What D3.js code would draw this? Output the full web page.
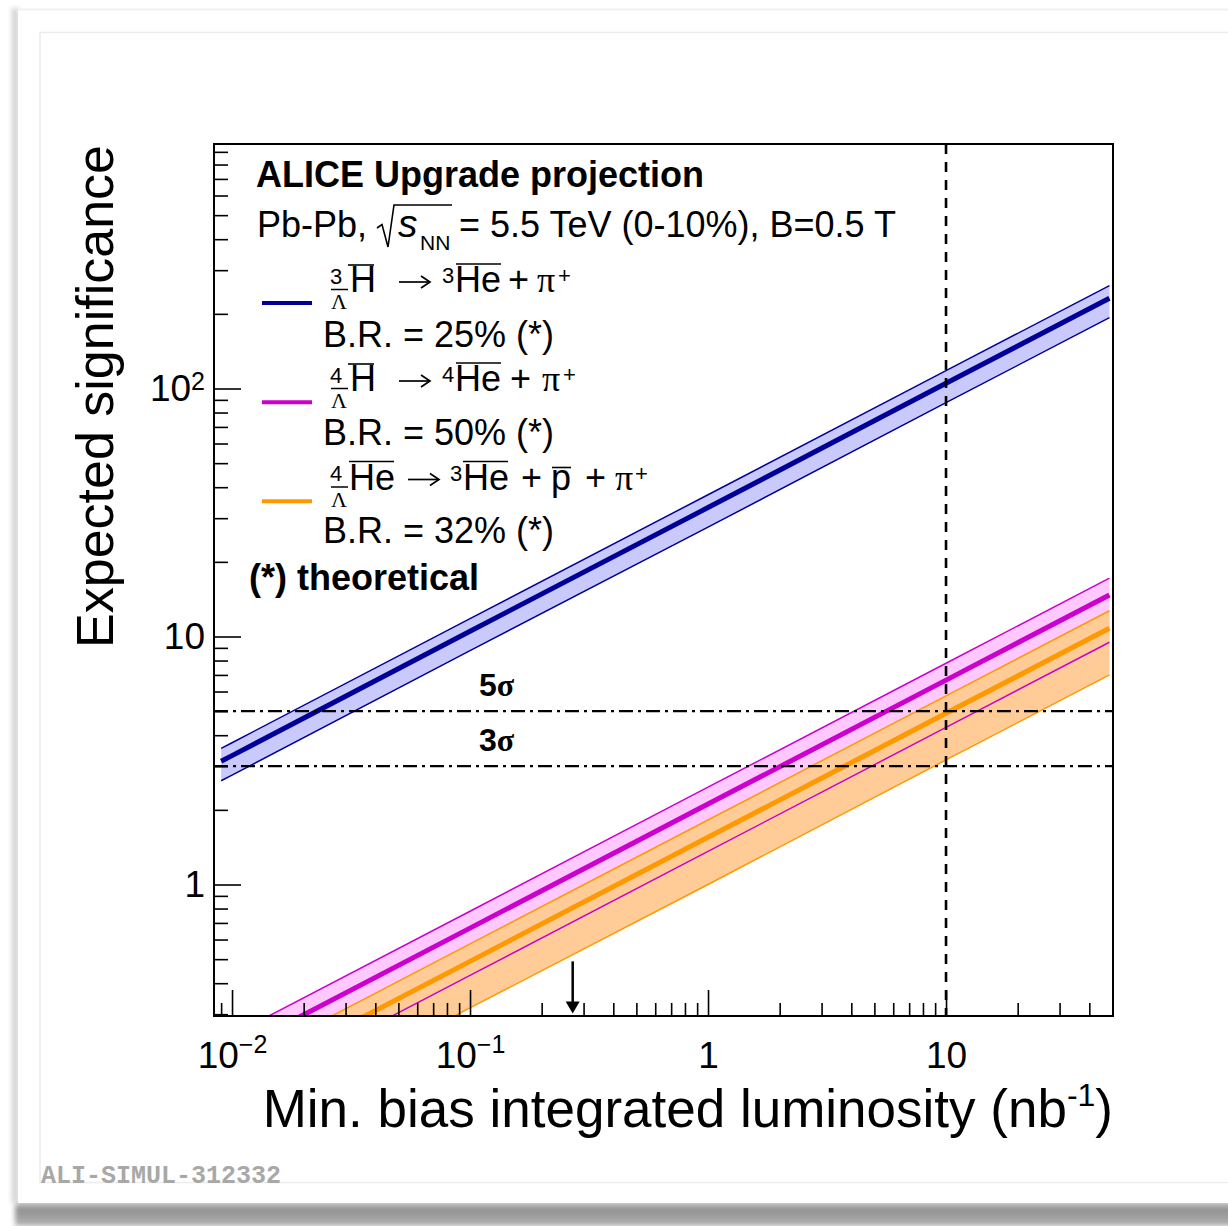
<!DOCTYPE html>
<html><head><meta charset="utf-8">
<script src="https://cdn.jsdelivr.net/npm/d3@7"></script>
<style>body{margin:0;background:#fff;} svg{display:block;}</style>
</head><body>
<svg id="c" width="1228" height="1226"></svg>
<script>
// ---------------- data ----------------
const lumi       = [0.009, 0.01, 0.1, 1, 10, 48.6];
const h3Center   = [3.14, 3.31, 10.5, 33.1, 105, 231];
const h3High     = [3.54, 3.73, 11.8, 37.3, 118, 260];
const h3Low      = [2.62, 2.76, 8.77, 27.6, 87.7, 193];
const h4Center   = [0.200, 0.211, 0.667, 2.11, 6.67, 14.7];
const h4High     = [0.234, 0.247, 0.780, 2.47, 7.80, 17.2];
const h4Low      = [0.129, 0.136, 0.430, 1.36, 4.30, 9.48];
const he4Center  = [0.147, 0.155, 0.490, 1.55, 4.90, 10.8];
const he4High    = [0.173, 0.182, 0.576, 1.82, 5.76, 12.7];
const he4Low     = [0.0952, 0.100, 0.318, 1.00, 3.18, 7.0];
const sigmaLevels = [5, 3];
const sigmaLabels = ["5", "3"];
const refLumi = 10;
const arrowLumi = 0.27;
const arrowSig = [0.49, 0.302];
const xDomain = [0.0084, 50.3];
const yDomain = [0.295, 968];
const xMajorTicks = [0.01, 0.1, 1, 10];
const xMajorLabels = [["10", "\u22122"], ["10", "\u22121"], ["1", ""], ["10", ""]];
const xMinorTicks = [0.009, 0.02, 0.03, 0.04, 0.05, 0.06, 0.07, 0.08, 0.09,
                     0.2, 0.3, 0.4, 0.5, 0.6, 0.7, 0.8, 0.9,
                     2, 3, 4, 5, 6, 7, 8, 9, 20, 30, 40, 50];
const yMajorTicks = [1, 10, 100];
const yMajorLabels = [["1", ""], ["10", ""], ["10", "2"]];
const yMinorTicks = [0.3, 0.4, 0.5, 0.6, 0.7, 0.8, 0.9, 2, 3, 4, 5, 6, 7, 8, 9,
                     20, 30, 40, 50, 60, 70, 80, 90, 200, 300, 400, 500, 600, 700, 800, 900];
const brLabels = ["B.R. = 25% (*)", "B.R. = 50% (*)", "B.R. = 32% (*)"];

// ---------------- drawing ----------------
const svg = d3.select("#c");
const SANS = "'Liberation Sans', Arial, Helvetica, sans-serif";
const SERIF = "'Liberation Serif', 'Times New Roman', serif";

// card / photo frame
const defs = svg.append("defs");
const bl = defs.append("filter").attr("id", "blur").attr("x", "-20%").attr("y", "-20%").attr("width", "140%").attr("height", "140%");
bl.append("feGaussianBlur").attr("stdDeviation", 2.5);
const gb = defs.append("linearGradient").attr("id", "gbot").attr("x1", 0).attr("y1", 0).attr("x2", 0).attr("y2", 1);
gb.append("stop").attr("offset", "0%").attr("stop-color", "#e2e2e2");
gb.append("stop").attr("offset", "35%").attr("stop-color", "#8e8e8e");
gb.append("stop").attr("offset", "100%").attr("stop-color", "#b4b4b4");
const gl = defs.append("linearGradient").attr("id", "gleft").attr("x1", 0).attr("y1", 0).attr("x2", 1).attr("y2", 0);
gl.append("stop").attr("offset", "0%").attr("stop-color", "#ffffff");
gl.append("stop").attr("offset", "60%").attr("stop-color", "#c4c4c4");
gl.append("stop").attr("offset", "100%").attr("stop-color", "#ececec");

svg.append("rect").attr("x", 15).attr("y", 1200).attr("width", 1220).attr("height", 26)
  .attr("fill", "url(#gbot)").attr("filter", "url(#blur)");
svg.append("rect").attr("x", 10).attr("y", 8).attr("width", 9).attr("height", 1195)
  .attr("fill", "url(#gleft)").attr("filter", "url(#blur)");
svg.append("rect").attr("x", 18).attr("y", 10).attr("width", 1215).attr("height", 1193).attr("fill", "#fff");
svg.append("line").attr("x1", 18).attr("x2", 1228).attr("y1", 9.5).attr("y2", 9.5)
  .attr("stroke", "#f0f0f0").attr("stroke-width", 2);
svg.append("rect").attr("x", 40).attr("y", 32.5).attr("width", 1200).attr("height", 1150)
  .attr("fill", "none").attr("stroke", "#ececec").attr("stroke-width", 1.5);
svg.append("text").attr("x", 41).attr("y", 1183).attr("font-family", "'Liberation Mono', 'Courier New', monospace")
  .attr("font-weight", "bold").attr("font-size", 25).attr("fill", "#a8a8a8").text("ALI-SIMUL-312332");

// scales
const x = d3.scaleLog().domain(xDomain).range([214, 1113]);
const y = d3.scaleLog().domain(yDomain).range([1016, 144]);
const [X0, X1] = x.range(), [Y0, Y1] = y.range();

defs.append("clipPath").attr("id", "clip").append("rect")
  .attr("x", X0).attr("y", Y1).attr("width", X1 - X0).attr("height", Y0 - Y1);

const plot = svg.append("g").attr("clip-path", "url(#clip)");

const series = [
  {c: h3Center, hi: h3High, lo: h3Low, line: "#000099", fill: "#c9c9fb"},
  {c: h4Center, hi: h4High, lo: h4Low, line: "#cc00cc", fill: "#ffc9ff"},
  {c: he4Center, hi: he4High, lo: he4Low, line: "#ff9900", fill: "#ffcb96"}
];
const area = s => d3.area().x((d, i) => x(lumi[i])).y0((d, i) => y(s.lo[i])).y1((d, i) => y(s.hi[i]))(lumi);
const line = arr => d3.line().x((d, i) => x(lumi[i])).y((d, i) => y(arr[i]))(lumi);

series.forEach(s => plot.append("path").attr("d", area(s)).attr("fill", s.fill));
series.forEach(s => {
  plot.append("path").attr("d", line(s.hi)).attr("fill", "none").attr("stroke", s.line).attr("stroke-width", 1.5);
  plot.append("path").attr("d", line(s.lo)).attr("fill", "none").attr("stroke", s.line).attr("stroke-width", 1.5);
});
series.forEach(s => plot.append("path").attr("d", line(s.c)).attr("fill", "none").attr("stroke", s.line).attr("stroke-width", 5));

// reference lines
sigmaLevels.forEach((v, i) => {
  plot.append("line").attr("x1", X0).attr("x2", X1).attr("y1", y(v)).attr("y2", y(v))
    .attr("stroke", "#000").attr("stroke-width", 2.3).attr("stroke-dasharray", "14,5,3,5");
  const t = svg.append("text").attr("x", 479).attr("y", y(v) - 15).attr("font-size", 32).attr("font-family", SANS);
  t.append("tspan").attr("font-weight", "bold").text(sigmaLabels[i]);
  t.append("tspan").attr("font-family", SERIF).attr("font-weight", "bold").text("\u03c3");
});
plot.append("line").attr("x1", x(refLumi)).attr("x2", x(refLumi)).attr("y1", Y1).attr("y2", Y0)
  .attr("stroke", "#000").attr("stroke-width", 2.6).attr("stroke-dasharray", "10,8");

// arrow
const ax = x(arrowLumi), ay0 = y(arrowSig[0]), ay1 = y(arrowSig[1]);
svg.append("line").attr("x1", ax).attr("x2", ax).attr("y1", ay0).attr("y2", ay1 - 8)
  .attr("stroke", "#000").attr("stroke-width", 2.5);
svg.append("path").attr("d", `M${ax - 7},${ay1 - 12} L${ax + 7},${ay1 - 12} L${ax},${ay1} Z`).attr("fill", "#000");

// axes (separate groups for minor and major ticks)
const gxMinor = svg.append("g").attr("transform", `translate(0,${Y0})`)
  .call(d3.axisBottom(x).tickValues(xMinorTicks).tickSize(-13).tickFormat(() => ""));
const gxMajor = svg.append("g").attr("transform", `translate(0,${Y0})`)
  .call(d3.axisBottom(x).tickValues(xMajorTicks).tickSize(-26).tickPadding(26).tickFormat(() => ""));
const gyMinor = svg.append("g").attr("transform", `translate(${X0},0)`)
  .call(d3.axisLeft(y).tickValues(yMinorTicks).tickSize(-14).tickFormat(() => ""));
const gyMajor = svg.append("g").attr("transform", `translate(${X0},0)`)
  .call(d3.axisLeft(y).tickValues(yMajorTicks).tickSize(-27).tickPadding(9).tickFormat(() => ""));
[gxMinor, gxMajor, gyMinor, gyMajor].forEach(g => {
  g.selectAll(".domain").remove();
  g.attr("color", "#000");
  g.selectAll(".tick line").attr("stroke-width", 1.6);
  g.selectAll("text").attr("font-family", SANS).attr("font-size", 37).attr("fill", "#000");
});
gxMajor.selectAll(".tick text").each(function(d, i) {
  const lab = xMajorLabels[i];
  const t = d3.select(this);
  t.append("tspan").text(lab[0]);
  if (lab[1]) t.append("tspan").attr("font-size", 25).attr("dy", -15).text(lab[1]);
});
gyMajor.selectAll(".tick text").each(function(d, i) {
  const lab = yMajorLabels[i];
  const t = d3.select(this);
  t.append("tspan").text(lab[0]);
  if (lab[1]) t.append("tspan").attr("font-size", 25).attr("dy", -11).text(lab[1]);
});

// frame
svg.append("rect").attr("x", X0).attr("y", Y1).attr("width", X1 - X0).attr("height", Y0 - Y1)
  .attr("fill", "none").attr("stroke", "#000").attr("stroke-width", 2);

// axis titles
const xt = svg.append("text").attr("x", X1).attr("y", 1127).attr("text-anchor", "end")
  .attr("font-family", SANS).attr("font-size", 53);
xt.append("tspan").text("Min. bias integrated luminosity (nb");
xt.append("tspan").attr("font-size", 32).attr("dy", -21).text("-1");
xt.append("tspan").attr("dy", 21).text(")");
svg.append("text").attr("transform", `translate(113,${Y1 + 1}) rotate(-90)`).attr("text-anchor", "end")
  .attr("font-family", SANS).attr("font-size", 52).text("Expected significance");

// legend / text block
const T = (xx, yy, s, o = {}) => svg.append("text").attr("x", xx).attr("y", yy)
  .attr("font-family", o.serif ? SERIF : SANS).attr("font-size", o.size || 36)
  .attr("font-weight", o.bold ? "bold" : null).attr("font-style", o.italic ? "italic" : null).text(s);
const OL = (x1, x2, yy, w = 1.6) => svg.append("line").attr("x1", x1).attr("x2", x2).attr("y1", yy).attr("y2", yy)
  .attr("stroke", "#000").attr("stroke-width", w);
const ARROW = (x1, x2, yy) => {
  OL(x1, x2, yy, 1.7);
  svg.append("path").attr("d", `M${x2 - 9},${yy - 6} L${x2},${yy} L${x2 - 9},${yy + 6}`)
    .attr("fill", "none").attr("stroke", "#000").attr("stroke-width", 1.7);
};

T(256, 187, "ALICE Upgrade projection", {bold: true});
T(257, 237, "Pb-Pb,");
svg.append("path").attr("d", "M377,228 L382,224.5 L388,247 L394,205 L452,205")
  .attr("fill", "none").attr("stroke", "#000").attr("stroke-width", 1.6);
T(398, 237, "s", {italic: true, size: 39});
T(420, 250, "NN", {size: 21});
T(459, 237, "= 5.5 TeV (0-10%), B=0.5 T");

// entry formulas
function hyperLabel(b, topNum) {
  T(330, b - 8.5, topNum, {size: 22});
  OL(331, 348, b - 2.5, 1.5);
  T(331, b + 17, "\u039b", {size: 22, serif: true});
}
// entry 1
let b = 292;
hyperLabel(b, "3");
T(350, b, "H"); OL(348, 374, b - 27);
ARROW(399, 430, b - 10);
T(442, b - 9, "3", {size: 22});
T(455, b, "He"); OL(456, 501, b - 28);
T(508, b, "+");
T(537, b, "\u03c0", {serif: true});
T(558, b - 9, "+", {size: 22});
// entry 2
b = 391;
hyperLabel(b, "4");
T(350, b, "H"); OL(348, 374, b - 27);
ARROW(399, 430, b - 10);
T(442, b - 9, "4", {size: 22});
T(455, b, "He"); OL(456, 501, b - 28);
T(510, b, "+");
T(542, b, "\u03c0", {serif: true});
T(563, b - 9, "+", {size: 22});
// entry 3
b = 489.5;
hyperLabel(b, "4");
T(349, b, "He"); OL(349, 394, b - 28);
ARROW(408, 439, b - 10);
T(450, b - 9, "3", {size: 22});
T(463, b, "He"); OL(463, 508, b - 28);
T(521, b, "+");
T(551, b, "p"); OL(552, 571, b - 22);
T(585, b, "+");
T(615, b, "\u03c0", {serif: true});
T(635, b - 9, "+", {size: 22});

const legY = [303, 402.3, 501.3];
series.forEach((s, i) => {
  svg.append("line").attr("x1", 262).attr("x2", 312).attr("y1", legY[i]).attr("y2", legY[i])
    .attr("stroke", s.line).attr("stroke-width", 4);
});
const brY = [346.7, 445, 543.3];
brLabels.forEach((s, i) => T(323, brY[i], s));
T(249, 590, "(*) theoretical", {bold: true});
</script>
</body></html>
